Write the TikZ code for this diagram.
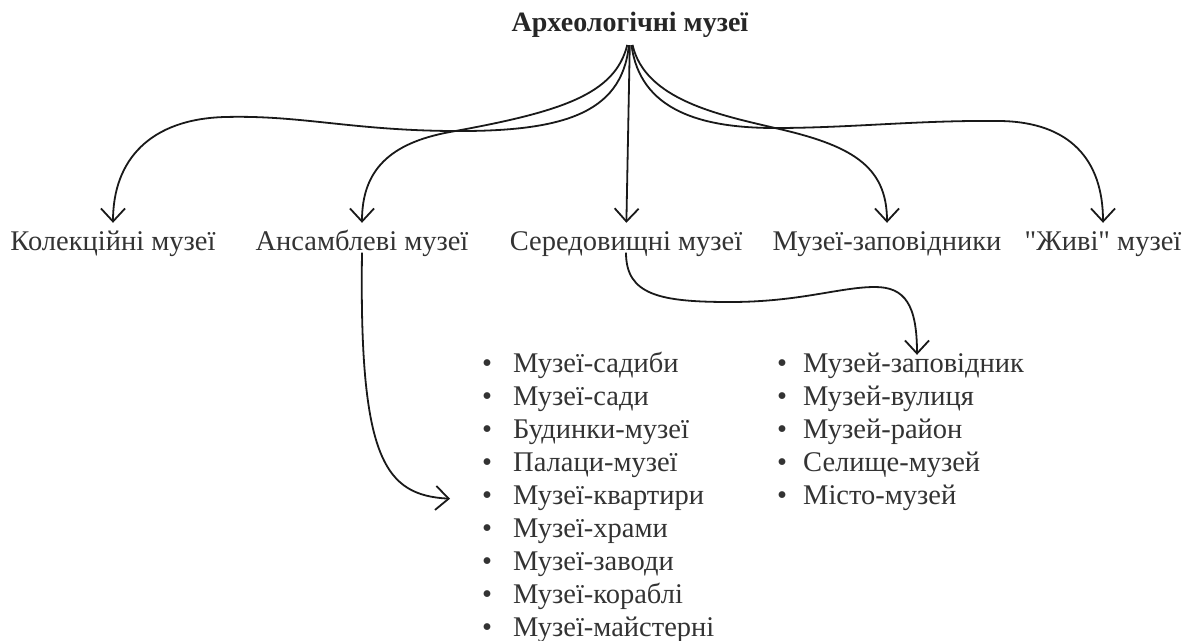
\documentclass[tikz,border=0pt]{standalone}
\usepackage{fontspec}
\setmainfont{Liberation Serif}
\usetikzlibrary{arrows.meta}
\begin{document}
\begin{tikzpicture}[x=1pt,y=-1pt,
  conn/.style={draw=black!90, line width=1.8pt, -{Straight Barb[length=13pt,width=24pt,line width=1.8pt]}},
  lab/.style={inner sep=0pt, text height=0.7em, text depth=0.25em, font=\fontsize{28.5}{33}\selectfont, text=black!80, anchor=base},
  ttl/.style={inner sep=0pt, text height=0.7em, text depth=0.25em, font=\bfseries\fontsize{28}{30}\selectfont, text=black!85, anchor=base},
  item/.style={anchor=base west, inner sep=0pt, text height=0.7em, text depth=0.25em, font=\fontsize{28.5}{33}\selectfont, text=black!80}
]
\useasboundingbox (0,0) rectangle (1188,640);

\node[ttl] (ttl) at (630,31) {Археологічні музеї};

\node[lab] (k) at (113,250) {Колекційні музеї};
\node[lab] (a) at (362,250) {Ансамблеві музеї};
\node[lab] (s) at (626,250) {Середовищні музеї};
\node[lab] (z) at (887,250) {Музеї-заповідники};
\node[lab] (j) at (1103,250) {\textquotedbl Живі\textquotedbl{} музеї};

\foreach \t [count=\i] in {Музеї-садиби,Музеї-сади,Будинки-музеї,Палаци-музеї,Музеї-квартири,Музеї-храми,Музеї-заводи,Музеї-кораблі,Музеї-майстерні}
  \node[item] (a\i) at (482,{372+33*(\i-1)}) {\makebox[31pt][l]{•}\t};

\foreach \t [count=\i] in {Музей-заповідник,Музей-вулиця,Музей-район,Селище-музей,Місто-музей}
  \node[item] (b\i) at (777,{372+33*(\i-1)}) {\makebox[26pt][l]{•}\t};

% title -> Колекційні
\draw[conn, shorten <=11.5pt, shorten >=20pt] (ttl.south) .. controls (622,115) and (560,132) .. (450,131)
  .. controls (350,130) and (300,115) .. (225,117) .. controls (150,119) and (113,160) .. (k.north);
% title -> Ансамблеві
\draw[conn, shorten <=11.5pt, shorten >=20pt] (ttl.south) .. controls (615,95) and (560,112) .. (450,132)
  .. controls (390,143) and (362,170) .. (a.north);
% title -> Середовищні
\draw[conn, shorten <=11.5pt, shorten >=20pt] (ttl.south) -- (s.north);
% title -> Музеї-заповідники
\draw[conn, shorten <=11.5pt, shorten >=20pt] (ttl.south) .. controls (645,100) and (720,115) .. (775,128)
  .. controls (850,145) and (887,165) .. (z.north);
% title -> Живі
\draw[conn, shorten <=11.5pt, shorten >=20pt] (ttl.south) .. controls (640,110) and (700,128) .. (775,128)
  .. controls (850,128) and (920,120) .. (1000,121) .. controls (1070,122) and (1103,160) .. (j.north);

% Ансамблеві -> list
\draw[conn] (a.south) .. controls (359,460) and (385,495) .. ([xshift=-32pt,yshift=3pt]a5.west);
% Середовищні -> list
\draw[conn] (s.south) .. controls (626,295) and (660,302) .. (730,302)
  .. controls (800,302) and (840,287) .. (875,287) .. controls (905,287) and (917,305) .. ([xshift=140pt,yshift=10pt]b1.north west);
\end{tikzpicture}
\end{document}
